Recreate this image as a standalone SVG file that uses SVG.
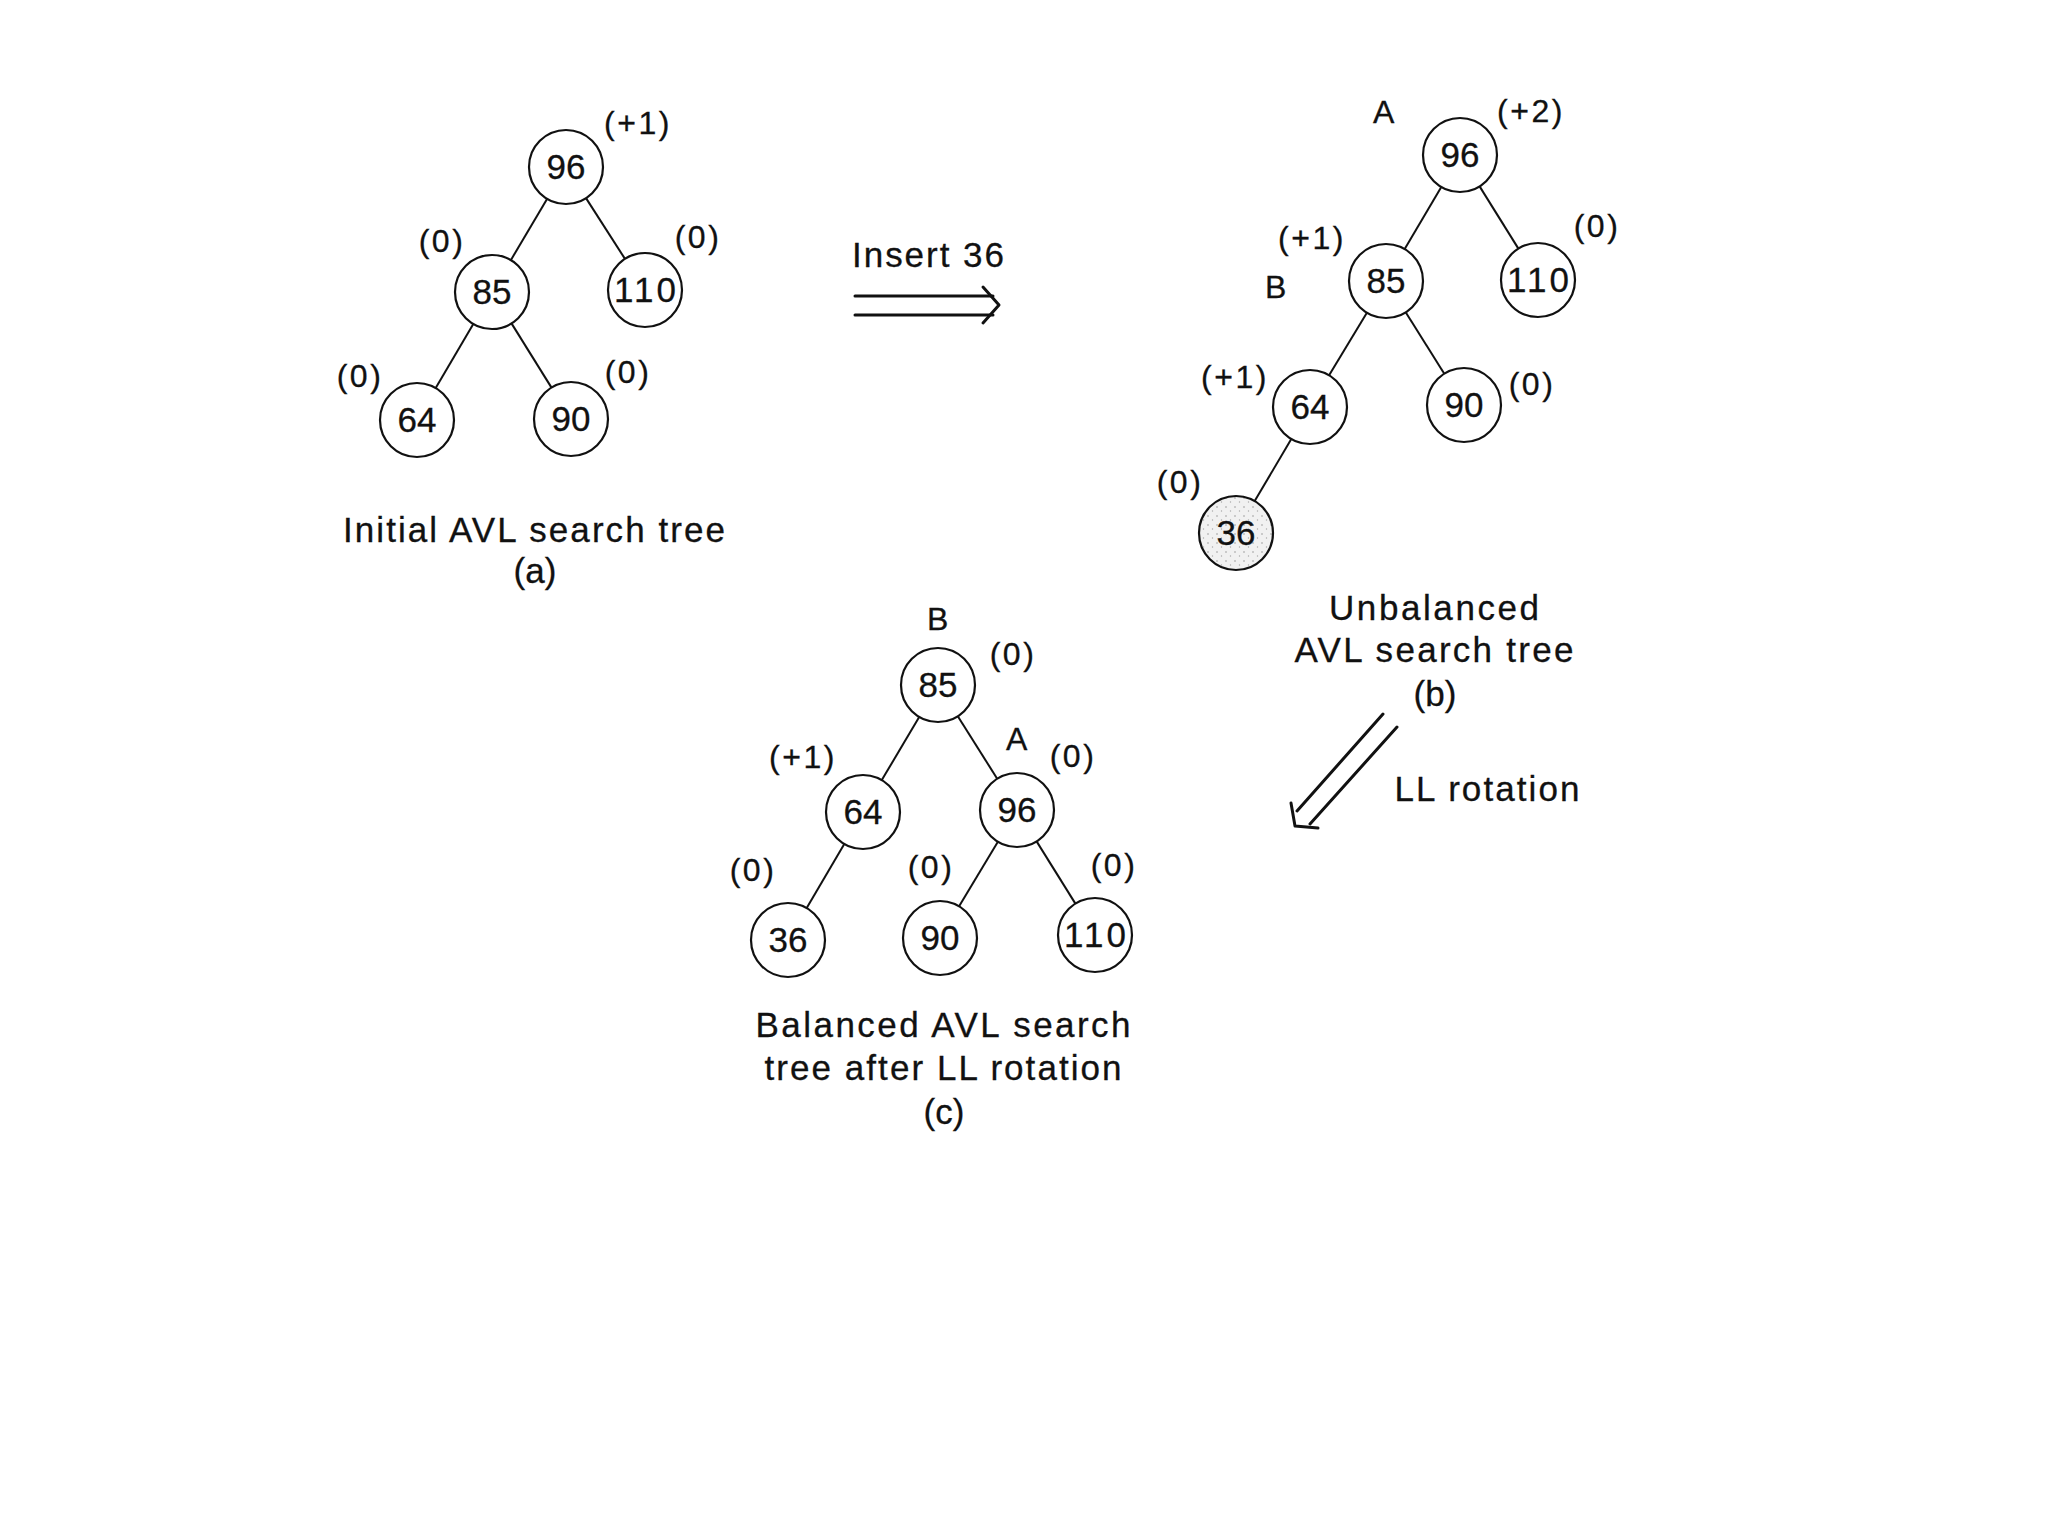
<svg xmlns="http://www.w3.org/2000/svg" width="2048" height="1536" viewBox="0 0 2048 1536">
<defs>
<style>
.node{fill:#fff;stroke:#111;stroke-width:2.2}
.shade{fill:url(#stipple);stroke:#111;stroke-width:2.2}
.num{font-family:"Liberation Sans",Arial,sans-serif;font-size:35px;fill:#111;text-anchor:middle;stroke:#111;stroke-width:0.3}
.lbl{font-family:"Liberation Sans",Arial,sans-serif;font-size:32px;fill:#111;text-anchor:middle;letter-spacing:2.5px;stroke:#111;stroke-width:0.3}
.cap{font-family:"Liberation Sans",Arial,sans-serif;font-size:35px;fill:#111;text-anchor:middle;stroke:#111;stroke-width:0.3}
.edge{stroke:#111;stroke-width:2;fill:none}
.arr{stroke:#111;stroke-width:3;fill:none;stroke-linecap:round;stroke-linejoin:round}
</style>
<pattern id="stipple" width="9" height="9" patternUnits="userSpaceOnUse">
<rect width="9" height="9" fill="#f1f1f1"/>
<circle cx="2" cy="3" r="0.8" fill="#999"/>
<circle cx="6.5" cy="7" r="0.7" fill="#aaa"/>
</pattern>
</defs>
<rect width="2048" height="1536" fill="#fff"/>

<g id="connectors">
<line class="edge" x1="547.2" y1="198.8" x2="510.8" y2="260.2"/>
<line class="edge" x1="586" y1="198.1" x2="625" y2="258.9"/>
<line class="edge" x1="473.3" y1="323.9" x2="435.7" y2="388.1"/>
<line class="edge" x1="511.5" y1="323.4" x2="551.5" y2="387.6"/>
<line class="edge" x1="1441.3" y1="186.9" x2="1404.7" y2="249.1"/>
<line class="edge" x1="1479.6" y1="186.4" x2="1518.4" y2="248.6"/>
<line class="edge" x1="1366.9" y1="312.7" x2="1329.1" y2="375.3"/>
<line class="edge" x1="1405.7" y1="312.3" x2="1444.3" y2="373.7"/>
<line class="edge" x1="1291.3" y1="438.9" x2="1254.7" y2="501.1"/>
<line class="edge" x1="919.2" y1="716.9" x2="881.8" y2="780.1"/>
<line class="edge" x1="957.8" y1="716.3" x2="997.2" y2="778.7"/>
<line class="edge" x1="844.3" y1="843.9" x2="806.7" y2="908.1"/>
<line class="edge" x1="997.9" y1="841.7" x2="959.1" y2="906.3"/>
<line class="edge" x1="1036.6" y1="841.4" x2="1075.4" y2="903.6"/>
<line class="arr" x1="855" y1="296" x2="993" y2="296"/>
<line class="arr" x1="855" y1="315" x2="993" y2="315"/>
<polyline class="arr" points="983,287 999,305 983,323"/>
<line class="arr" x1="1383" y1="714" x2="1297" y2="811"/>
<line class="arr" x1="1397" y1="727" x2="1310" y2="824"/>
<polyline class="arr" points="1291,803 1295,826 1318,828"/>
</g>

<g id="a-96"><circle class="node" cx="566" cy="167" r="37"/><text class="num" x="566" y="179">96</text></g>
<g id="a-85"><circle class="node" cx="492" cy="292" r="37"/><text class="num" x="492" y="304">85</text></g>
<g id="a-110"><circle class="node" cx="645" cy="290" r="37"/><text class="num" x="645" y="302" textLength="62" lengthAdjust="spacing">110</text></g>
<g id="a-64"><circle class="node" cx="417" cy="420" r="37"/><text class="num" x="417" y="432">64</text></g>
<g id="a-90"><circle class="node" cx="571" cy="419" r="37"/><text class="num" x="571" y="431">90</text></g>
<g id="a-labels">
<text class="lbl" x="638" y="134">(+1)</text>
<text class="lbl" x="442" y="252">(0)</text>
<text class="lbl" x="698" y="248">(0)</text>
<text class="lbl" x="360" y="387">(0)</text>
<text class="lbl" x="628" y="383">(0)</text>
<text class="cap" x="534" y="542" textLength="382" lengthAdjust="spacing">Initial AVL search tree</text>
<text class="cap" x="535" y="583">(a)</text>
</g>

<g id="insert-label"><text class="cap" x="928" y="267" textLength="152" lengthAdjust="spacing">Insert 36</text></g>

<g id="b-96"><circle class="node" cx="1460" cy="155" r="37"/><text class="num" x="1460" y="167">96</text></g>
<g id="b-85"><circle class="node" cx="1386" cy="281" r="37"/><text class="num" x="1386" y="293">85</text></g>
<g id="b-110"><circle class="node" cx="1538" cy="280" r="37"/><text class="num" x="1538" y="292" textLength="62" lengthAdjust="spacing">110</text></g>
<g id="b-64"><circle class="node" cx="1310" cy="407" r="37"/><text class="num" x="1310" y="419">64</text></g>
<g id="b-90"><circle class="node" cx="1464" cy="405" r="37"/><text class="num" x="1464" y="417">90</text></g>
<g id="b-36"><circle class="shade" cx="1236" cy="533" r="37"/><text class="num" x="1236" y="545">36</text></g>
<g id="b-labels">
<text class="lbl" x="1385" y="123">A</text>
<text class="lbl" x="1531" y="122">(+2)</text>
<text class="lbl" x="1312" y="249">(+1)</text>
<text class="lbl" x="1277" y="298">B</text>
<text class="lbl" x="1597" y="237">(0)</text>
<text class="lbl" x="1235" y="388">(+1)</text>
<text class="lbl" x="1532" y="395">(0)</text>
<text class="lbl" x="1180" y="493">(0)</text>
<text class="cap" x="1434" y="620" textLength="210" lengthAdjust="spacing">Unbalanced</text>
<text class="cap" x="1434" y="662" textLength="279" lengthAdjust="spacing">AVL search tree</text>
<text class="cap" x="1435" y="706">(b)</text>
</g>

<g id="ll-label"><text class="cap" x="1487" y="801" textLength="185" lengthAdjust="spacing">LL rotation</text></g>

<g id="c-85"><circle class="node" cx="938" cy="685" r="37"/><text class="num" x="938" y="697">85</text></g>
<g id="c-64"><circle class="node" cx="863" cy="812" r="37"/><text class="num" x="863" y="824">64</text></g>
<g id="c-96"><circle class="node" cx="1017" cy="810" r="37"/><text class="num" x="1017" y="822">96</text></g>
<g id="c-36"><circle class="node" cx="788" cy="940" r="37"/><text class="num" x="788" y="952">36</text></g>
<g id="c-90"><circle class="node" cx="940" cy="938" r="37"/><text class="num" x="940" y="950">90</text></g>
<g id="c-110"><circle class="node" cx="1095" cy="935" r="37"/><text class="num" x="1095" y="947" textLength="62" lengthAdjust="spacing">110</text></g>
<g id="c-labels">
<text class="lbl" x="939" y="630">B</text>
<text class="lbl" x="1013" y="665">(0)</text>
<text class="lbl" x="803" y="768">(+1)</text>
<text class="lbl" x="1018" y="750">A</text>
<text class="lbl" x="1073" y="767">(0)</text>
<text class="lbl" x="753" y="881">(0)</text>
<text class="lbl" x="931" y="878">(0)</text>
<text class="lbl" x="1114" y="876">(0)</text>
<text class="cap" x="943" y="1037" textLength="375" lengthAdjust="spacing">Balanced AVL search</text>
<text class="cap" x="943" y="1080" textLength="357" lengthAdjust="spacing">tree after LL rotation</text>
<text class="cap" x="944" y="1124">(c)</text>
</g>
</svg>
